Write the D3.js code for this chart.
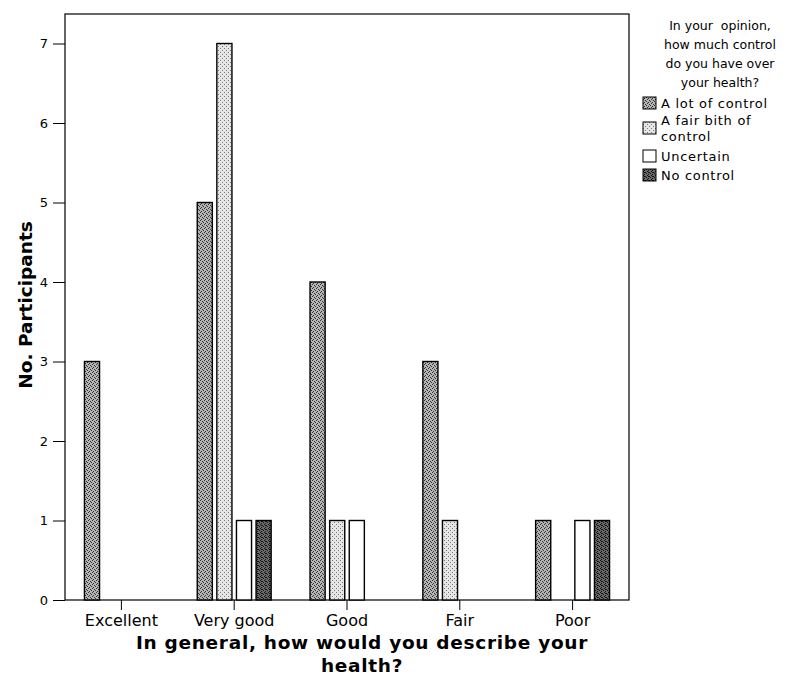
<!DOCTYPE html>
<html>
<head>
<meta charset="utf-8">
<script src="https://cdn.jsdelivr.net/npm/d3@7"></script>
<style>
  body { margin: 0; background: #fff; }
  svg { font-family: "DejaVu Sans", "Liberation Sans", Arial, sans-serif; }
</style>
</head>
<body>
<div class="barChart"></div>
<script>
// categories and series
var categories = ["Excellent", "Very good", "Good", "Fair", "Poor"];
var seriesNames = ["A lot of control", "A fair bith of control", "Uncertain", "No control"];
var aLotOfControl = [3, 5, 4, 3, 1];
var fairBitOfControl = [0, 7, 1, 1, 0];
var uncertain = [0, 1, 1, 0, 1];
var noControl = [0, 1, 0, 0, 1];
var yTicks = [0, 1, 2, 3, 4, 5, 6, 7];

function init() {
  var w = 787;
  var h = 678;
  var left = 65, right = 629, top = 14, bottom = 600;

  var series = [aLotOfControl, fairBitOfControl, uncertain, noControl];

  var svg = d3.select(".barChart")
    .append("svg")
    .attr("width", w)
    .attr("height", h);

  // stipple-like fills to mimic the scanned print
  var defs = svg.append("defs");
  var patterns = [
    { id: "p0", base: "#b4b4b4", dot: "#333", dots: [[0, 0], [2, 1], [1, 3], [3, 2]] },
    { id: "p1", base: "#e6e6e6", dot: "#777", dots: [[0, 0], [2, 2]] },
    { id: "p2", base: "#ffffff", dot: "#fff", dots: [] },
    { id: "p3", base: "#6a6a6a", dot: "#111", dots: [[0, 0], [2, 1], [1, 3], [3, 2], [1, 1]] }
  ];
  patterns.forEach(function(p) {
    var pat = defs.append("pattern")
      .attr("id", p.id)
      .attr("width", 4)
      .attr("height", 4)
      .attr("patternUnits", "userSpaceOnUse");
    pat.append("rect").attr("width", 4).attr("height", 4).attr("fill", p.base);
    p.dots.forEach(function(d) {
      pat.append("rect").attr("x", d[0]).attr("y", d[1]).attr("width", 1).attr("height", 1).attr("fill", p.dot);
    });
  });
  var fills = patterns.map(function(p) { return "url(#" + p.id + ")"; });

  var xScale = d3.scaleBand()
    .domain(categories)
    .range([left, right])
    .paddingInner(0.31)
    .paddingOuter(0.155);

  var xInner = d3.scaleBand()
    .domain(d3.range(seriesNames.length))
    .range([0, xScale.bandwidth()])
    .paddingInner(0.23)
    .paddingOuter(0.1);

  var yScale = d3.scaleLinear()
    .domain([0, 7])
    .range([bottom, 43.5]);

  // plot frame
  svg.append("rect")
    .attr("x", left)
    .attr("y", top)
    .attr("width", right - left)
    .attr("height", bottom - top)
    .attr("fill", "none")
    .attr("stroke", "#000")
    .attr("stroke-width", 1.2);

  // bars
  var rows = [];
  categories.forEach(function(c, i) {
    series.forEach(function(s, j) {
      if (s[i] > 0) rows.push({ cat: c, idx: j, value: s[i] });
    });
  });

  svg.selectAll(".bar")
    .data(rows)
    .enter()
    .append("rect")
    .attr("class", "bar")
    .attr("x", function(d) { return xScale(d.cat) + xInner(d.idx); })
    .attr("y", function(d) { return yScale(d.value); })
    .attr("width", xInner.bandwidth())
    .attr("height", function(d) { return bottom - yScale(d.value); })
    .attr("fill", function(d) { return fills[d.idx]; })
    .attr("stroke", "#000")
    .attr("stroke-width", 1.4);

  // axes
  var xAxis = d3.axisBottom(xScale).tickSize(10).tickPadding(5);
  var gx = svg.append("g")
    .attr("transform", "translate(0," + bottom + ")")
    .call(xAxis);
  gx.select(".domain").remove();
  gx.selectAll("text").style("font-size", "16px").style("font-family", "DejaVu Sans").attr("fill", "#000");

  var yAxis = d3.axisLeft(yScale).tickValues(yTicks).tickSize(12).tickPadding(5)
    .tickFormat(d3.format("d"));
  var gy = svg.append("g")
    .attr("transform", "translate(" + left + ",0)")
    .call(yAxis);
  gy.select(".domain").remove();
  gy.selectAll("text").style("font-size", "13px").style("font-family", "DejaVu Sans").attr("fill", "#000");

  // axis titles
  svg.append("text")
    .attr("transform", "rotate(-90)")
    .attr("x", -305)
    .attr("y", 32)
    .attr("text-anchor", "middle")
    .style("font-size", "18.5px")
    .style("font-weight", "bold")
    .text("No. Participants");

  svg.append("text")
    .attr("x", 362)
    .attr("y", 649)
    .attr("text-anchor", "middle")
    .style("font-size", "18.5px")
    .style("font-weight", "bold")
    .style("letter-spacing", "0.7px")
    .text("In general, how would you describe your");

  svg.append("text")
    .attr("x", 362)
    .attr("y", 672)
    .attr("text-anchor", "middle")
    .style("font-size", "18.5px")
    .style("font-weight", "bold")
    .style("letter-spacing", "0.7px")
    .text("health?");

  // legend
  var legendTitle = ["In your  opinion,", "how much control", "do you have over", "your health?"];
  svg.selectAll(".ltitle")
    .data(legendTitle)
    .enter()
    .append("text")
    .attr("class", "ltitle")
    .attr("x", 720)
    .attr("y", function(d, i) { return 30 + i * 19; })
    .attr("text-anchor", "middle")
    .style("font-size", "12.5px")
    .style("white-space", "pre")
    .text(function(d) { return d; });

  var legendY = [103, 128, 156, 175];
  var legendLines = [["A lot of control"], ["A fair bith of", "control"], ["Uncertain"], ["No control"]];
  var lg = svg.selectAll(".litem")
    .data(seriesNames)
    .enter()
    .append("g")
    .attr("class", "litem")
    .attr("transform", function(d, i) { return "translate(643," + legendY[i] + ")"; });

  lg.append("rect")
    .attr("x", 0)
    .attr("y", -6)
    .attr("width", 13)
    .attr("height", 12)
    .attr("fill", function(d, i) { return fills[i]; })
    .attr("stroke", "#000")
    .attr("stroke-width", 1);

  lg.each(function(d, i) {
    var lines = legendLines[i];
    var g = d3.select(this);
    lines.forEach(function(t, k) {
      g.append("text")
        .attr("x", 18)
        .attr("y", (k - (lines.length - 1) / 2) * 15.5 + 5)
        .style("font-size", "13px")
        .style("letter-spacing", "0.7px")
        .text(t);
    });
  });
}
window.onload = init;
</script>
</body>
</html>
